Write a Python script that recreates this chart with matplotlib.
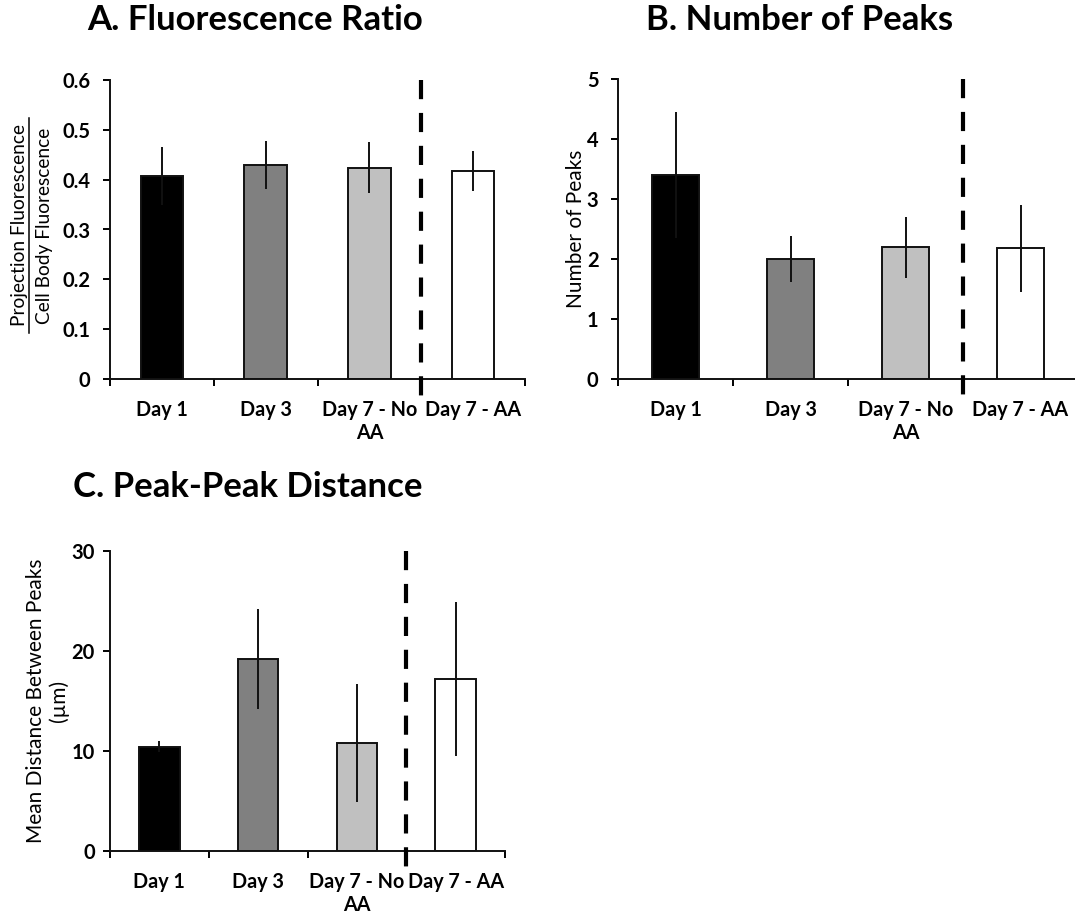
import matplotlib
matplotlib.use("Agg")
import matplotlib.pyplot as plt
from matplotlib.lines import Line2D

plt.rcParams['font.family'] = ['Lato', 'DejaVu Sans']

categories = ["Day 1", "Day 3", "Day 7 - No\nAA", "Day 7 - AA"]
bar_colors = ["#000000", "#808080", "#c0c0c0", "#ffffff"]

# A. Fluorescence ratio
ratio_mean = [0.407, 0.430, 0.424, 0.417]
ratio_err = [0.058, 0.048, 0.051, 0.040]

# B. Number of peaks
peaks_mean = [3.40, 2.00, 2.20, 2.18]
peaks_err = [1.05, 0.385, 0.51, 0.73]

# C. Peak-peak distance (µm)
dist_mean = [10.4, 19.2, 10.8, 17.2]
dist_err = [0.55, 5.0, 5.9, 7.7]

W, H = 1075, 915
TICK_FS = 14.2
LABEL_FS = 15
fig = plt.figure(figsize=(W / 100, H / 100), dpi=100)


def px_axes(left, right, top, bottom):
    return fig.add_axes([left / W, 1 - bottom / H, (right - left) / W, (bottom - top) / H])


def draw_panel(ax, means, errs, ymax, ystep, ylabels, ypad=9):
    n = len(means)
    xs = [i + 0.5 for i in range(n)]
    ax.bar(xs, means, width=0.41, color=bar_colors, edgecolor="#111111",
           linewidth=1.4, zorder=2)
    ax.errorbar(xs, means, yerr=errs, fmt="none", ecolor="#111111",
                elinewidth=1.4, capsize=0, zorder=3)
    ax.set_xlim(0, n)
    ax.set_ylim(0, ymax)
    ax.set_xticks(range(n + 1))
    ax.set_xticklabels([])
    ax.set_xticks(xs, minor=True)
    ax.set_xticklabels(categories, minor=True, fontsize=TICK_FS, fontweight="bold",
                       linespacing=1.2)
    ax.tick_params(axis="x", which="minor", length=0, pad=15)
    ax.tick_params(axis="x", which="major", length=5, width=1.4, direction="out")
    yt = [ystep * k for k in range(len(ylabels))]
    ax.set_yticks(yt)
    ax.set_yticklabels(ylabels, fontsize=14.5, fontweight="bold")
    ax.tick_params(axis="y", length=5, width=1.4, direction="out", pad=ypad)
    for s in ("top", "right"):
        ax.spines[s].set_visible(False)
    for s in ("left", "bottom"):
        ax.spines[s].set_linewidth(1.4)
        ax.spines[s].set_color("#111111")
    # dashed separator before the last group
    frac_below = 20 / (ax.get_window_extent().height)
    ax.plot([n - 1, n - 1], [ymax, -frac_below * ymax], color="black",
            linewidth=3, dashes=(4.6, 3.3), clip_on=False, zorder=4,
            solid_capstyle="butt", dash_capstyle="butt")


axA = px_axes(110, 525, 80, 379)
draw_panel(axA, ratio_mean, ratio_err, 0.6, 0.1,
           ["0", "0.1", "0.2", "0.3", "0.4", "0.5", "0.6"])

axB = px_axes(618, 1078, 79.3, 379)
draw_panel(axB, peaks_mean, peaks_err, 5, 1, ["0", "1", "2", "3", "4", "5"])
axB.set_ylabel("Number of Peaks", fontsize=LABEL_FS)
axB.yaxis.set_label_coords(-0.07, 0.5)

axC = px_axes(110, 505, 550.7, 850.7)
draw_panel(axC, dist_mean, dist_err, 30, 10, ["0", "10", "20", "30"], ypad=6)
axC.set_ylabel("Mean Distance Between Peaks\n(µm)", fontsize=LABEL_FS,
               linespacing=1.15)
axC.yaxis.set_label_coords(-0.104, 0.5)

# Ratio label for panel A: numerator over denominator
fig.text(20 / W, 1 - 225.5 / H, "Projection Fluorescence", rotation=90,
         ha="center", va="center", fontsize=13.8)
fig.text(44.5 / W, 1 - 225.5 / H, "Cell Body Fluorescence", rotation=90,
         ha="center", va="center", fontsize=13.8)
fig.add_artist(Line2D([28.5 / W, 28.5 / W], [1 - 118 / H, 1 - 333 / H],
                      color="black", linewidth=1.1))

# Panel titles
fig.text(255 / W, 1 - 20 / H, "A. Fluorescence Ratio", ha="center", va="center",
         fontsize=25, fontweight="bold")
fig.text(800 / W, 1 - 20 / H, "B. Number of Peaks", ha="center", va="center",
         fontsize=25, fontweight="bold")
fig.text(248 / W, 1 - 487 / H, "C. Peak-Peak Distance", ha="center", va="center",
         fontsize=25, fontweight="bold")

fig.savefig("out.png", dpi=100)
